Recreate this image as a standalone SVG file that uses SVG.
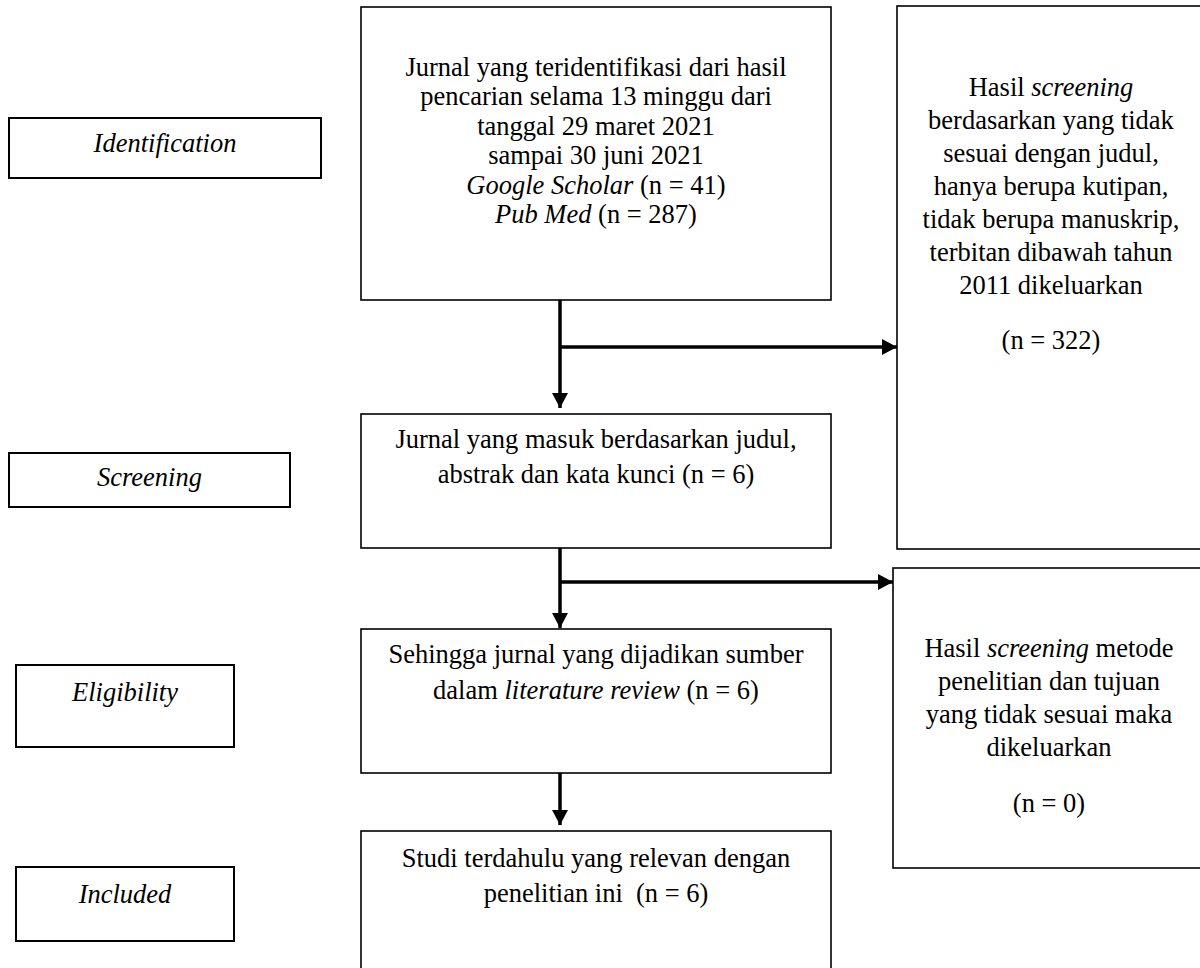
<svg xmlns="http://www.w3.org/2000/svg" width="1200" height="968" viewBox="0 0 1200 968">
<style>
.box{fill:#fff;stroke:#000;stroke-width:1.6}
.lbl{fill:#fff;stroke:#000;stroke-width:2}
text{font-family:"Liberation Serif","Times New Roman",serif;font-size:26.5px;fill:#000;text-anchor:middle}
.it{font-style:italic}
.conn{stroke:#000;stroke-width:3.5;fill:none}
</style>
<defs>
<marker id="ah" markerUnits="userSpaceOnUse" markerWidth="16" markerHeight="16" viewBox="0 0 16 16" refX="15" refY="8" orient="auto">
<path d="M0,0 L15,8 L0,16 Z" fill="#000"/>
</marker>
</defs>
<rect width="1200" height="968" fill="#fff"/>

<g id="label-identification">
<rect class="lbl" x="9" y="118" width="312" height="60"/>
<text x="165" y="152" class="it">Identification</text>
</g>
<g id="label-screening">
<rect class="lbl" x="9" y="453" width="281" height="54"/>
<text x="149.5" y="486" class="it">Screening</text>
</g>
<g id="label-eligibility">
<rect class="lbl" x="16" y="665" width="218" height="82"/>
<text x="125" y="701" class="it">Eligibility</text>
</g>
<g id="label-included">
<rect class="lbl" x="16" y="867" width="218" height="74"/>
<text x="125" y="903" class="it">Included</text>
</g>

<g id="node-identified">
<rect class="box" x="361" y="7" width="470" height="293"/>
<text x="596" y="76">Jurnal yang teridentifikasi dari hasil</text>
<text x="596" y="105">pencarian selama 13 minggu dari</text>
<text x="596" y="135">tanggal 29 maret 2021</text>
<text x="596" y="164">sampai 30 juni 2021</text>
<text x="596" y="194"><tspan class="it">Google Scholar</tspan> (n = 41)</text>
<text x="596" y="223"><tspan class="it">Pub Med</tspan> (n = 287)</text>
</g>

<g id="node-excluded1">
<rect class="box" x="897" y="6" width="310" height="543"/>
<text x="1051" y="96">Hasil <tspan class="it">screening</tspan></text>
<text x="1051" y="129">berdasarkan yang tidak</text>
<text x="1051" y="162">sesuai dengan judul,</text>
<text x="1051" y="195">hanya berupa kutipan,</text>
<text x="1051" y="228">tidak berupa manuskrip,</text>
<text x="1051" y="261">terbitan dibawah tahun</text>
<text x="1051" y="294">2011 dikeluarkan</text>
<text x="1051" y="349">(n = 322)</text>
</g>

<g id="node-screened">
<rect class="box" x="361" y="414" width="470" height="134"/>
<text x="596" y="448">Jurnal yang masuk berdasarkan judul,</text>
<text x="596" y="483">abstrak dan kata kunci (n = 6)</text>
</g>

<g id="node-excluded2">
<rect class="box" x="893" y="568" width="314" height="300"/>
<text x="1049" y="657">Hasil <tspan class="it">screening</tspan> metode</text>
<text x="1049" y="690">penelitian dan tujuan</text>
<text x="1049" y="723">yang tidak sesuai maka</text>
<text x="1049" y="756">dikeluarkan</text>
<text x="1049" y="812">(n = 0)</text>
</g>

<g id="node-eligible">
<rect class="box" x="361" y="629" width="470" height="144"/>
<text x="596" y="663">Sehingga jurnal yang dijadikan sumber</text>
<text x="596" y="699">dalam <tspan class="it">literature review</tspan> (n = 6)</text>
</g>

<g id="node-included">
<rect class="box" x="361" y="831" width="470" height="150"/>
<text x="596" y="867">Studi terdahulu yang relevan dengan</text>
<text x="596" y="902" xml:space="preserve">penelitian ini  (n = 6)</text>
</g>

<g id="connectors">
<line class="conn" x1="560" y1="300" x2="560" y2="408" marker-end="url(#ah)"/>
<line class="conn" x1="560" y1="347" x2="897" y2="347" marker-end="url(#ah)"/>
<line class="conn" x1="560" y1="548" x2="560" y2="628" marker-end="url(#ah)"/>
<line class="conn" x1="560" y1="582" x2="893" y2="582" marker-end="url(#ah)"/>
<line class="conn" x1="560" y1="773" x2="560" y2="825" marker-end="url(#ah)"/>
</g>
</svg>
